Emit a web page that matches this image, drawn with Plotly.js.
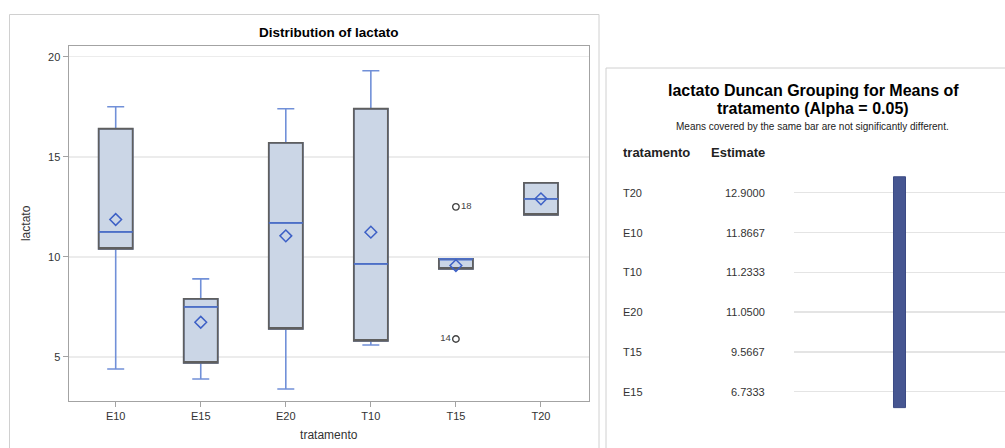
<!DOCTYPE html>
<html>
<head>
<meta charset="utf-8">
<script src="https://cdn.plot.ly/plotly-3.0.1.min.js"></script>
<style>html,body{margin:0;padding:0;background:#fff;}#chart{width:1005px;height:448px;}</style>
</head>
<body>
<div id="chart"></div>
<script>
// ---- data ----
const categories = ['E10', 'E15', 'E20', 'T10', 'T15', 'T20'];
const q1 = [10.4, 4.7, 6.4, 5.8, 9.4, 12.1];
const medians = [11.25, 7.5, 11.7, 9.65, 9.9, 12.9];
const q3 = [16.4, 7.9, 15.7, 17.4, 9.9, 13.7];
const lowerWhisker = [4.4, 3.9, 3.4, 5.6, 9.4, 12.1];
const upperWhisker = [17.5, 8.9, 17.4, 19.3, 9.9, 13.7];
const means = [11.8667, 6.7333, 11.05, 11.2333, 9.5667, 12.9];
const outlierCats = ['T15', 'T15'];
const outlierVals = [12.5, 5.9];
const outlierObs = ['18', '14'];
const duncanGroupLetters = ['A', 'A', 'A', 'A', 'A', 'A']; // in descending-mean order
const yTicks = [5, 10, 15, 20];

// ---- derived ----
const W = 1005, H = 448;
const px = v => v / W;
const py = v => 1 - v / H;
const FONT = 'Liberation Sans, Arial, Helvetica, sans-serif';

const order = categories.map((c, i) => i).sort((a, b) => means[b] - means[a]);
const orderCats = order.map(i => categories[i]);
const orderMeans = order.map(i => means[i]);
const rowIdx = orderCats.map((c, i) => i);

const traces = [];
// box fill + blue whiskers
traces.push({
  type: 'box', x: categories, q1: q1, median: medians, q3: q3,
  lowerfence: lowerWhisker, upperfence: upperWhisker,
  width: 0.4, whiskerwidth: 0.5, boxpoints: false,
  fillcolor: '#cbd6e6', line: {color: '#7190d8', width: 1.6},
  xaxis: 'x', yaxis: 'y', hoverinfo: 'skip'
});
// gray outline of box
traces.push({
  type: 'box', x: categories, q1: q1, median: q1, q3: q3,
  lowerfence: q1, upperfence: q3,
  width: 0.4, whiskerwidth: 0, boxpoints: false,
  fillcolor: 'rgba(0,0,0,0)', line: {color: '#5f5f5f', width: 1.8},
  xaxis: 'x', yaxis: 'y', hoverinfo: 'skip'
});
// median line on top (darker blue)
traces.push({
  type: 'box', x: categories, q1: medians, median: medians, q3: medians,
  lowerfence: medians, upperfence: medians,
  width: 0.4, whiskerwidth: 0, boxpoints: false,
  fillcolor: 'rgba(0,0,0,0)', line: {color: '#4d6fc6', width: 1.6},
  xaxis: 'x', yaxis: 'y', hoverinfo: 'skip'
});
// means
traces.push({
  type: 'scatter', mode: 'markers', x: categories, y: means,
  marker: {symbol: 'diamond-open', size: 9, color: '#3d60c6', line: {width: 1.5, color: '#3d60c6'}},
  xaxis: 'x', yaxis: 'y', hoverinfo: 'skip'
});
// outliers
traces.push({
  type: 'scatter', mode: 'markers+text', x: outlierCats, y: outlierVals,
  text: outlierObs, textposition: ['middle right', 'middle left'],
  textfont: {family: FONT, size: 9.5, color: '#444'},
  marker: {symbol: 'circle-open', size: 6.5, color: '#444', line: {width: 1.4, color: '#444'}},
  xaxis: 'x', yaxis: 'y', hoverinfo: 'skip', cliponaxis: false
});

// Duncan grouping bars
const groupNames = Array.from(new Set(duncanGroupLetters.join('').split('')));
groupNames.forEach((g, gi) => {
  const rows = rowIdx.filter(i => duncanGroupLetters[i].indexOf(g) >= 0);
  const first = Math.min(...rows), last = Math.max(...rows);
  traces.push({
    type: 'bar', x: [gi + 1], y: [last - first + 0.8], base: [first - 0.4],
    width: 0.114, marker: {color: '#465691', line: {color: '#3b4a84', width: 1}},
    xaxis: 'x2', yaxis: 'y2', hoverinfo: 'skip'
  });
});

const annotations = [];
// right-panel titles
annotations.push({xref: 'paper', yref: 'paper', x: px(813), y: py(90), xanchor: 'center', yanchor: 'middle', showarrow: false,
  text: '<b>lactato Duncan Grouping for Means of</b>', font: {family: FONT, size: 16, color: '#000'}});
annotations.push({xref: 'paper', yref: 'paper', x: px(813), y: py(109), xanchor: 'center', yanchor: 'middle', showarrow: false,
  text: '<b>tratamento (Alpha = 0.05)</b>', font: {family: FONT, size: 16, color: '#000'}});
annotations.push({xref: 'paper', yref: 'paper', x: px(812), y: py(126), xanchor: 'center', yanchor: 'middle', showarrow: false,
  text: 'Means covered by the same bar are not significantly different.', font: {family: FONT, size: 10, color: '#222'}});
// headers
annotations.push({xref: 'paper', yref: 'paper', x: px(621), y: py(152.5), xanchor: 'left', yanchor: 'middle', showarrow: false,
  text: '<b>tratamento</b>', font: {family: FONT, size: 13, color: '#222'}});
annotations.push({xref: 'paper', yref: 'paper', x: px(767), y: py(152.5), xanchor: 'right', yanchor: 'middle', showarrow: false,
  text: '<b>Estimate</b>', font: {family: FONT, size: 13, color: '#222'}});
// rows
rowIdx.forEach(i => {
  annotations.push({xref: 'paper', yref: 'y2', x: px(621), y: i, xanchor: 'left', yanchor: 'middle', showarrow: false,
    text: orderCats[i], font: {family: FONT, size: 11, color: '#333'}});
  annotations.push({xref: 'paper', yref: 'y2', x: px(767), y: i, xanchor: 'right', yanchor: 'middle', showarrow: false,
    text: orderMeans[i].toFixed(4), font: {family: FONT, size: 11, color: '#333'}});
});

const shapes = [
  {type: 'rect', xref: 'paper', yref: 'paper', x0: px(9.5), x1: px(599), y0: -0.2, y1: py(14.5),
   line: {color: '#d0d0d0', width: 1}, fillcolor: 'rgba(0,0,0,0)', layer: 'below'},
  {type: 'rect', xref: 'paper', yref: 'paper', x0: px(606), x1: 1.2, y0: -0.2, y1: py(68),
   line: {color: '#d0d0d0', width: 1}, fillcolor: 'rgba(0,0,0,0)', layer: 'below'}
];

const layout = {
  width: W, height: H, autosize: false,
  margin: {l: 0, r: 0, t: 0, b: 0, pad: 0},
  paper_bgcolor: '#fff', plot_bgcolor: 'rgba(0,0,0,0)',
  showlegend: false, hovermode: false, boxmode: 'overlay',
  font: {family: FONT, color: '#333'},
  title: {text: '<b>Distribution of lactato</b>', x: px(328.7), y: py(32.3), xref: 'paper', yref: 'paper',
    xanchor: 'center', yanchor: 'middle', font: {family: FONT, size: 13.5, color: '#000'}},
  xaxis: {
    domain: [px(68.5), px(589)], anchor: 'y', type: 'category',
    categoryorder: 'array', categoryarray: categories,
    range: [-0.555, 5.565], fixedrange: true,
    showline: true, mirror: true, linecolor: '#a3a3a3', linewidth: 1,
    ticks: 'outside', ticklen: 5, tickcolor: '#a3a3a3', showgrid: false,
    tickfont: {family: FONT, size: 11, color: '#333'},
    title: {text: 'tratamento', standoff: 9, font: {family: FONT, size: 12, color: '#333'}}
  },
  yaxis: {
    domain: [py(401), py(45.7)], anchor: 'x',
    range: [2.8, 20.55], tickvals: yTicks, fixedrange: true,
    showline: true, mirror: true, linecolor: '#a3a3a3', linewidth: 1,
    ticks: 'outside', ticklen: 5, tickcolor: '#a3a3a3',
    showgrid: true, gridcolor: '#ececec', gridwidth: 1.5, zeroline: false,
    tickfont: {family: FONT, size: 11, color: '#333'},
    title: {text: 'lactato', standoff: 14, font: {family: FONT, size: 12, color: '#333'}}
  },
  xaxis2: {
    domain: [px(794), 1], anchor: 'y2', range: [0, 2],
    showgrid: false, zeroline: false, showline: false, showticklabels: false, ticks: '', fixedrange: true
  },
  yaxis2: {
    domain: [py(411.6), py(172.8)], anchor: 'x2', range: [5.5, -0.5],
    tickvals: rowIdx, showticklabels: false, ticks: '',
    showgrid: true, gridcolor: '#e4e4e4', gridwidth: 1.5, zeroline: false, showline: false, fixedrange: true
  },
  annotations: annotations,
  shapes: shapes
};

Plotly.newPlot('chart', traces, layout, {displayModeBar: false, staticPlot: true});
</script>
</body>
</html>
